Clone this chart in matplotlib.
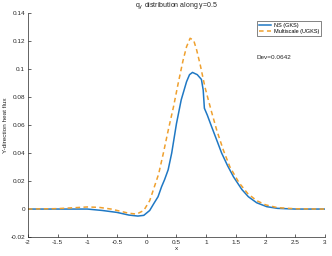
import matplotlib

matplotlib.use("Agg")
import matplotlib.pyplot as plt

# NS (GKS) curve
ns_x = [-2, -1.5, -1.0, -0.75, -0.5, -0.3, -0.15, -0.05, 0.05, 0.12, 0.19, 0.25, 0.3,
        0.36, 0.42, 0.5, 0.58, 0.67, 0.72, 0.77, 0.85, 0.92, 0.95, 0.97, 1.02, 1.09,
        1.18, 1.26, 1.36, 1.46, 1.6, 1.71, 1.85, 2.02, 2.2, 2.5, 3]
ns_y = [0, 0, 0, -0.001, -0.0024, -0.0043, -0.005, -0.0045, -0.001, 0.004, 0.0088,
        0.016, 0.021, 0.028, 0.040, 0.061, 0.078, 0.091, 0.096, 0.0976, 0.096, 0.0926,
        0.085, 0.072, 0.067, 0.059, 0.049, 0.040, 0.031, 0.023, 0.014, 0.0088, 0.0045,
        0.0017, 0.0005, 0, 0]

# Multiscale (UGKS) curve
ms_x = [-2, -1.5, -1.2, -1.0, -0.8, -0.6, -0.45, -0.3, -0.17, -0.05, 0.05, 0.11, 0.2,
        0.28, 0.36, 0.45, 0.53, 0.61, 0.67, 0.73, 0.79, 0.84, 0.9, 0.98, 1.08, 1.18,
        1.29, 1.40, 1.55, 1.7, 1.85, 2.0, 2.2, 2.5, 3]
ms_y = [0, 0.0003, 0.001, 0.0015, 0.0012, 0, -0.0015, -0.003, -0.0036, -0.001, 0.006,
        0.0136, 0.025, 0.040, 0.056, 0.073, 0.090, 0.106, 0.116, 0.122, 0.1205, 0.1136,
        0.103, 0.087, 0.071, 0.056, 0.042, 0.030, 0.019, 0.011, 0.006, 0.003, 0.001,
        0.0002, 0]

x_ticks = [-2, -1.5, -1, -0.5, 0, 0.5, 1, 1.5, 2, 2.5, 3]
y_ticks = [-0.02, 0, 0.02, 0.04, 0.06, 0.08, 0.1, 0.12, 0.14]

plt.rcParams["font.family"] = ["Liberation Sans", "DejaVu Sans"]
fs = 4.6

fig = plt.figure(figsize=(3.32, 2.56), dpi=100)
ax = fig.add_axes([0.084, 0.074, 0.895, 0.875])
ax.plot(ns_x, ns_y, color="#1F78C4", lw=1.1, label="NS (GKS)")
ax.plot(ms_x, ms_y, color="#EFA02E", lw=1.1, ls=(0, (3, 2.2)), label="Multiscale (UGKS)")

ax.set_xlim(-2, 3)
ax.set_ylim(-0.02, 0.14)
ax.set_xticks(x_ticks)
ax.set_xticklabels([f"{v:g}" for v in x_ticks])
ax.set_yticks(y_ticks)
ax.set_yticklabels([f"{v:g}" for v in y_ticks])
ax.tick_params(direction="in", length=2, width=0.5, labelsize=fs, colors="#262626",
               pad=2)
for s in ("top", "right"):
    ax.spines[s].set_visible(False)
for s in ("left", "bottom"):
    ax.spines[s].set_linewidth(0.5)
    ax.spines[s].set_color("#262626")

ax.set_xlabel("x", fontsize=fs, labelpad=1, color="#262626")
ax.set_ylabel("Y-direction heat flux", fontsize=fs, labelpad=2, color="#262626")
ax.set_title(r"q$_{\rm y}$ distribution along y=0.5", fontsize=fs + 0.4, pad=4,
             color="#262626")
ax.text(1.84, 0.108, "Dev=0.0642", fontsize=fs, color="#262626", va="center")

leg = ax.legend(loc="upper right", bbox_to_anchor=(0.99, 0.97), fontsize=fs - 0.6,
                frameon=True, fancybox=False, handlelength=2.2, borderpad=0.35,
                labelspacing=0.25, handletextpad=0.5, borderaxespad=0.2)
leg.get_frame().set_linewidth(0.5)
leg.get_frame().set_edgecolor("#262626")

fig.savefig("out.png", dpi=100)
